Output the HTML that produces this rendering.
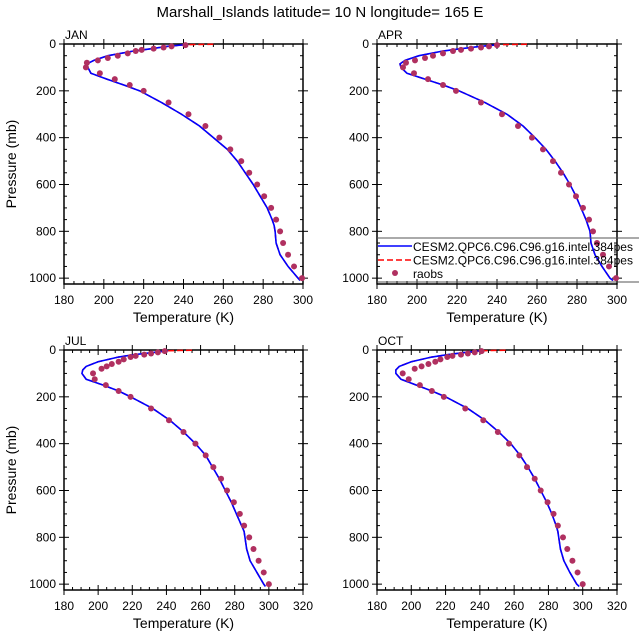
<!DOCTYPE html>
<html><head><meta charset="utf-8"><style>
body{margin:0;background:#fff}
svg text{font-family:"Liberation Sans",Arial,sans-serif;fill:#000}
</style></head><body>
<svg id="c" width="639" height="639" xmlns="http://www.w3.org/2000/svg">
<text x="320" y="17" font-size="15" text-anchor="middle">Marshall_Islands  latitude= 10 N longitude= 165 E</text>
</svg>
<script>
const months = ["JAN","APR","JUL","OCT"];
const modelP = [3,10,20,30,50,70,85,100,125,150,175,200,250,300,350,400,450,500,550,600,650,700,750,775,800,850,900,950,1000,1010];
const modelJAN = [241,232,224,215,202,195,191.5,192,193.5,201.5,210,218,229,239,248,255,262,267,271,275,278.5,282,284.5,285.5,286,286.5,288.5,292.5,297.5,298.5];
const modelAPR = [241,232,222,213,201,194,191.5,192,195,204,213,221,234,245,253,259,264.5,269,273,276.5,279.5,282,284.5,285.5,286.5,287,289,292.5,296.5,298];
const modelJUL = [241,233,221,212,200,193,191,190.5,193,203,212,219,232,242,250,257,263,267,271,274.5,278,281,284,285.5,286,287,289,293,297,298];
const modelOCT = [241,232,221,212,200,193,191,191,194,203,212,220,233,243,251,258,263.5,268,272,275.5,279,282,284.5,285.5,286,287,289,292.5,296.5,298];
const obsP = [5,10,15,20,25,30,40,50,60,70,80,100,125,150,175,200,250,300,350,400,450,500,550,600,650,700,750,800,850,900,950,1000];
const obsJAN = [241,234,230,225,219,216,212,207,202,197,191.5,191,198,205.5,213,220,232.5,242.5,251,258,263.5,269,273,277,280.5,284,286.5,288.5,290,292.5,295.5,299.5];
const obsAPR = [240,236,232,227,222,218,213,208,204,199,194.5,193,198.5,205.5,213,219.5,232,242.5,250.5,257.5,263,268,272,276,279.5,283,286,288,290,293,296,299.5];
const obsJUL = [239,235,231,227,222,219,215,212,208,205,202,197,198,204.5,212,219,231,241.5,250,257,263,267.5,272,275.5,279.5,283,285.5,288.5,291,294,297,300];
const obsOCT = [241,237,233,229,224,221,217,214,210,206,202,195,198.5,205,212,219,231.5,242,250.5,257,263,267.5,272,275.5,279.5,283,285.5,288.5,291,294,297,300];
const redTopT = [255,255,255,255];
const xTicksTop = [180,200,220,240,260,280,300];
const xTicksBot = [180,200,220,240,260,280,300,320];
const yTicks = [0,200,400,600,800,1000];
const legendLabels = ["CESM2.QPC6.C96.C96.g16.intel.384pes","CESM2.QPC6.C96.C96.g16.intel.384pes","raobs"];

const svg=document.getElementById('c');
const NS="http://www.w3.org/2000/svg";
function mk(tag,attrs,parent){const e=document.createElementNS(NS,tag);for(const k in attrs)e.setAttribute(k,attrs[k]);(parent||svg).appendChild(e);return e;}
const panels=[
 {x0:64,x1:303,y0:44,y1:284,xmax:300,model:modelJAN,obs:obsJAN,ylab:true,ticks:xTicksTop},
 {x0:377,x1:617,y0:44,y1:284,xmax:300,model:modelAPR,obs:obsAPR,ylab:false,ticks:xTicksTop},
 {x0:64,x1:303,y0:350,y1:590,xmax:320,model:modelJUL,obs:obsJUL,ylab:true,ticks:xTicksBot},
 {x0:377,x1:617,y0:350,y1:590,xmax:320,model:modelOCT,obs:obsOCT,ylab:false,ticks:xTicksBot}];
panels.forEach((P,i)=>{
 const g=mk('g',{});
 
 
 const sx=t=>P.x0+(t-180)/(P.xmax-180)*(P.x1-P.x0);
 const sy=p=>P.y0+p/1025*(P.y1-P.y0);
 const t=mk('text',{x:P.x0+1,y:P.y0-5,'font-size':12},g);t.textContent=months[i];
 
 for(let v=180;v<=P.xmax;v+=5){const X=sx(v);const maj=(v%20===0);
  mk('line',{x1:X,x2:X,y1:P.y1-(maj?5:3),y2:P.y1+(maj?5:0),stroke:'#000','stroke-width':1},g);
  mk('line',{x1:X,x2:X,y1:P.y0+(maj?5:3),y2:P.y0-(maj?5:0),stroke:'#000','stroke-width':1},g);}
 for(let v=0;v<=1000;v+=50){const Y=sy(v);const maj=(v%200===0);
  mk('line',{x1:P.x0+(maj?5:3),x2:P.x0-(maj?5:0),y1:Y,y2:Y,stroke:'#000'},g);
  mk('line',{x1:P.x1-(maj?5:3),x2:P.x1+(maj?5:0),y1:Y,y2:Y,stroke:'#000'},g);}
 mk('rect',{x:P.x0,y:P.y0,width:P.x1-P.x0,height:P.y1-P.y0,fill:'none',stroke:'#000','stroke-width':1.5},g);
 P.ticks.forEach(v=>{const e=mk('text',{x:sx(v),y:P.y1+20,'font-size':12,'text-anchor':'middle'},g);e.textContent=v;
  });
 yTicks.forEach(v=>{const e=mk('text',{x:P.x0-8,y:sy(v)+4,'font-size':12,'text-anchor':'end'},g);e.textContent=v;
  });
 const xt=mk('text',{x:(P.x0+P.x1)/2,y:P.y1+38,'font-size':14,'text-anchor':'middle'},g);xt.textContent='Temperature (K)';
 
 if(P.ylab){const yt=mk('text',{x:0,y:0,'font-size':14,'text-anchor':'middle',transform:`translate(16,${(P.y0+P.y1)/2}) rotate(-90)`},g);yt.textContent='Pressure (mb)';
  }
 const rp=[1].concat(modelP),rt=[redTopT[i]].concat(P.model);
 const red=mk('polyline',{points:rp.map((p,k)=>sx(rt[k])+','+sy(p)).join(' '),fill:'none',stroke:'#f00','stroke-width':1.5,'stroke-dasharray':'6,3'},g);
 
 const blue=mk('polyline',{points:modelP.map((p,k)=>sx(P.model[k])+','+sy(p)).join(' '),fill:'none',stroke:'#00f','stroke-width':1.6},g);
 
 obsP.forEach((p,k)=>{const c=mk('circle',{cx:sx(P.obs[k]),cy:sy(p),r:3,fill:'#b03060'},g);
  });
});
const lg=mk('g',{});


mk('line',{x1:377,x2:639,y1:238,y2:238,stroke:'#555','stroke-width':1},lg);
mk('line',{x1:377,x2:639,y1:282,y2:282,stroke:'#555','stroke-width':1},lg);
mk('line',{x1:378,x2:412,y1:246,y2:246,stroke:'#00f','stroke-width':1.6},lg);
mk('line',{x1:378,x2:412,y1:260,y2:260,stroke:'#f00','stroke-width':1.5,'stroke-dasharray':'6,3'},lg);
mk('circle',{cx:395,cy:273,r:3,fill:'#b03060'},lg);
legendLabels.forEach((s,k)=>{const e=mk('text',{x:413,y:251+k*13.5,'font-size':12,textLength:k<2?220:null},lg);e.textContent=s;
 if(k===2)e.removeAttribute('textLength');
 });
</script>
</body></html>
